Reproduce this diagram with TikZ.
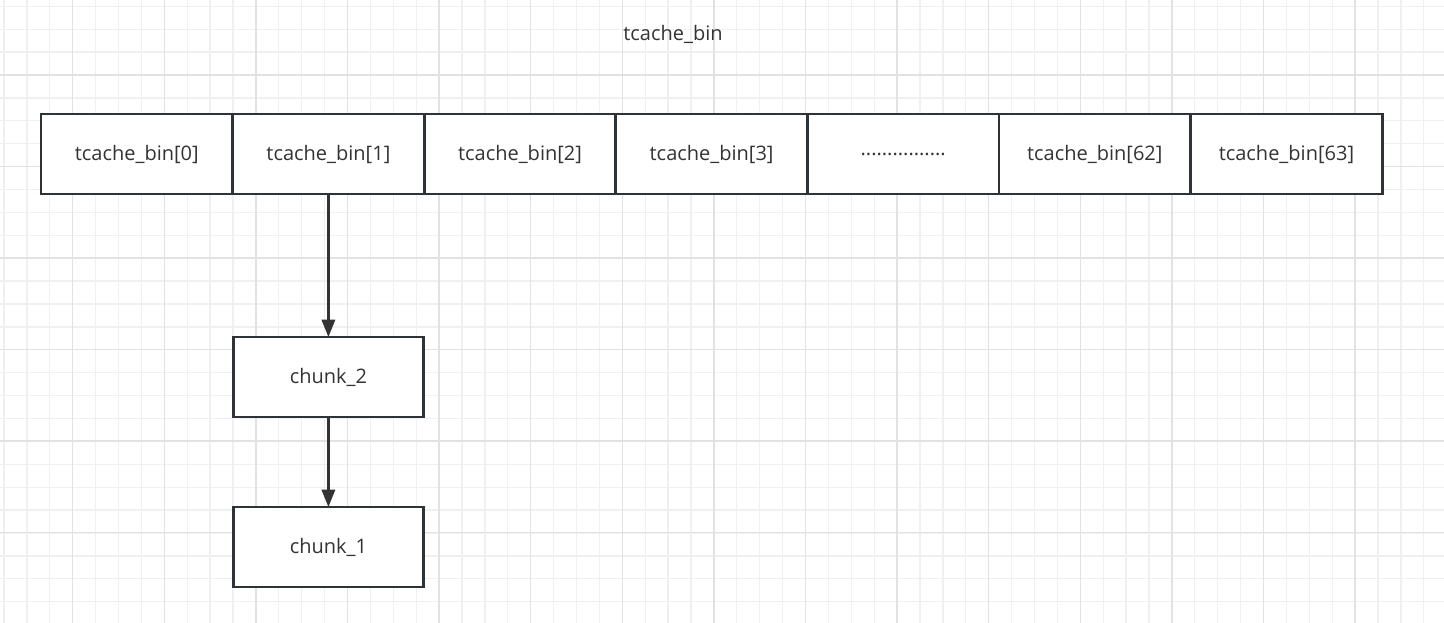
\documentclass[tikz,border=0pt]{standalone}
\usepackage{fontspec}
\setmainfont{Open Sans}
\usetikzlibrary{positioning,chains,arrows.meta}
\definecolor{gridminor}{HTML}{F0F0F0}
\definecolor{gridmajor}{HTML}{E2E2E2}
\definecolor{boxline}{HTML}{2D3338}
\definecolor{txt}{HTML}{333333}
\begin{document}
\begin{tikzpicture}[x=0.75pt,y=-0.75pt,
    every node/.style = {text=txt, font=\fontsize{15}{18}\selectfont},
    binbox/.style = {rectangle, draw=boxline, line width=2pt, fill=white,
      outer sep=0pt, minimum width=143.7pt, minimum height=60pt},
    link/.style = {draw=txt, line width=1.8pt,
      -{Triangle[length=13pt,width=10pt]}}]
\useasboundingbox (0,0) rectangle (1444,623);
% grid
\foreach \gx in {4.0,26.9,...,1444} \draw[gridminor,line width=1pt] (\gx,0) -- (\gx,623);
\foreach \gy in {6.3,29.2,...,623} \draw[gridminor,line width=1pt] (0,\gy) -- (1444,\gy);
\foreach \gx in {72.7,164.3,...,1444} \draw[gridmajor,line width=1pt] (\gx,0) -- (\gx,623);
\foreach \gy in {75,166.5,...,623} \draw[gridmajor,line width=1pt] (0,\gy) -- (1444,\gy);
\node (title) at (673,34) {tcache\_bin};
\begin{scope}[start chain=going right,node distance=0pt]
\node[binbox,on chain,anchor=west] (bin0) at (41,154) {tcache\_bin[0]};
\node[binbox,on chain] (bin1) {tcache\_bin[1]};
\node[binbox,on chain] (bin2) {tcache\_bin[2]};
\node[binbox,on chain] (bin3) {tcache\_bin[3]};
\node[binbox,on chain] (dots) {................};
\node[binbox,on chain] (bin62) {tcache\_bin[62]};
\node[binbox,on chain] (bin63) {tcache\_bin[63]};
\end{scope}
\node[binbox,minimum width=142.5pt,below=107.25pt of bin1] (chunk2) {chunk\_2};
\node[binbox,minimum width=142.5pt,below=67.5pt of chunk2] (chunk1) {chunk\_1};
\draw[link] (bin1) -- (chunk2);
\draw[link] (chunk2) -- (chunk1);
\end{tikzpicture}
\end{document}
